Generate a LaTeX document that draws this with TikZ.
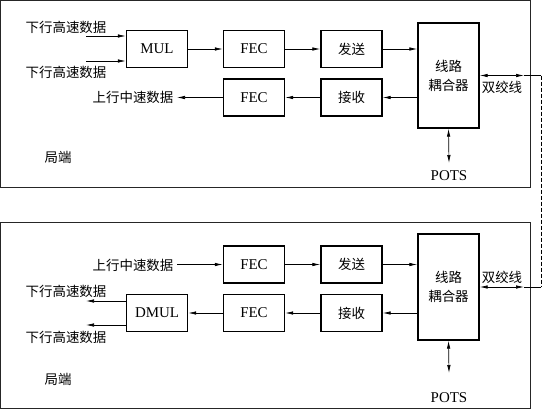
\documentclass[tikz,border=0pt]{standalone}
\usepackage{fontspec}
\setmainfont{Liberation Serif}
\newfontfamily\cjk{Noto Sans CJK SC}
\newcommand{\zhfont}{\cjk\fontsize{13.5}{19}\selectfont}
\usetikzlibrary{arrows.meta}
\tikzset{
  blk/.style={draw, line width=1.4bp, minimum width=61bp, minimum height=37bp,
    inner sep=0pt, align=center, font=\fontsize{15}{18}\selectfont},
  zh/.style={inner sep=0pt, font=\zhfont},
  fl/.style={line width=0.7bp, -{Latex[length=8bp,width=3.5bp]}},
  dfl/.style={line width=0.7bp, {Latex[length=8bp,width=3.5bp]}-{Latex[length=8bp,width=3.5bp]}},
  frame/.style={draw, line width=0.8bp, black!85}
}

\begin{document}
\begin{tikzpicture}[x=1bp,y=-1bp]
      \useasboundingbox (0,0) rectangle (543,409);

      % Emetteur (haut)
      \draw[frame] (0.5,0.5) rectangle (530,187);
      \node[blk] (mulA) at (157,49) {MUL};
      \node[blk] (fecA) at (254,49) {FEC};
      \node[blk, font=\zhfont] (sndA) at (351.5,49) {发送};
      \node[blk] (fecB) at (254,97.5) {FEC};
      \node[blk, font=\zhfont] (rcvA) at (351.5,97.5) {接收};
      \node[blk, font=\zhfont, minimum height=105bp] (cplA) at (448.5,75.5) {线路\\耦合器};

      \coordinate (inA1) at (86,36);
      \coordinate (inA2) at (86,61);
      \node[zh] (txtA1) at (66,27) {下行高速数据};
      \node[zh] (txtA2) at (66,72) {下行高速数据};
      \draw[fl] (inA1) -- (inA1 -| mulA.west);
      \draw[fl] (inA2) -- (inA2 -| mulA.west);
      \draw[fl] (mulA) -- (fecA);
      \draw[fl] (fecA) -- (sndA);
      \draw[fl] (sndA) -- (sndA -| cplA.west);
      \draw[fl] (rcvA -| cplA.west) -- (rcvA);
      \draw[fl] (rcvA) -- (fecB);
      \node[zh] (upA) at (133,97.5) {上行中速数据};
      \coordinate (outA) at (177,97.5);
      \draw[fl] (fecB) -- (outA);

      \coordinate (potsAe) at (449,163);
      \node[font=\fontsize{15}{18}\selectfont, inner sep=0pt] (potsA) at (449,176) {POTS};
      \draw[dfl] (cplA.south) -- (potsAe);
      \node[zh] (ctA) at (58,157) {局端};

      % Recepteur (bas)
      \draw[frame] (0.5,222) rectangle (530,408.5);
      \node[blk] (fecC) at (254,264.5) {FEC};
      \node[blk, font=\zhfont] (sndB) at (351.5,264.5) {发送};
      \node[blk] (fecD) at (254,313) {FEC};
      \node[blk, font=\zhfont] (rcvB) at (351.5,313) {接收};
      \node[blk] (dmul) at (157,313) {DMUL};
      \node[blk, font=\zhfont, minimum height=106bp] (cplB) at (448.5,287) {线路\\耦合器};

      \node[zh] (upB) at (133,265) {上行中速数据};
      \coordinate (inB) at (177,264.5);
      \draw[fl] (inB) -- (fecC);
      \draw[fl] (fecC) -- (sndB);
      \draw[fl] (sndB) -- (sndB -| cplB.west);
      \draw[fl] (rcvB -| cplB.west) -- (rcvB);
      \draw[fl] (rcvB) -- (fecD);
      \draw[fl] (fecD) -- (dmul);

      \coordinate (outB1) at (86,301);
      \coordinate (outB2) at (86,325);
      \node[zh] (txtB1) at (66,291) {下行高速数据};
      \node[zh] (txtB2) at (66,337) {下行高速数据};
      \draw[fl] (outB1 -| dmul.west) -- (outB1);
      \draw[fl] (outB2 -| dmul.west) -- (outB2);

      \coordinate (potsBe) at (449,373);
      \node[font=\fontsize{15}{18}\selectfont, inner sep=0pt] (potsB) at (449,398) {POTS};
      \draw[dfl] (cplB.south) -- (potsBe);
      \node[zh] (ctB) at (58,379) {局端};

      % Double paire
      \coordinate (edgA) at (524,75.5);
      \coordinate (crnA) at (541,75.5);
      \coordinate (edgB) at (524,287);
      \coordinate (crnB) at (541,287);
      \draw[dfl] (cplA.east) -- (edgA);
      \draw[line width=0.7bp] (edgA) -- (crnA);
      \draw[line width=0.7bp, dash pattern=on 4bp off 2bp] (crnA) -- (crnB);
      \draw[line width=0.7bp] (crnB) -- (edgB);
      \draw[dfl] (edgB) -- (cplB.east);
      \node[zh] (twA) at (502,87) {双绞线};
      \node[zh] (twB) at (502,277) {双绞线};
    \end{tikzpicture}
\end{document}
